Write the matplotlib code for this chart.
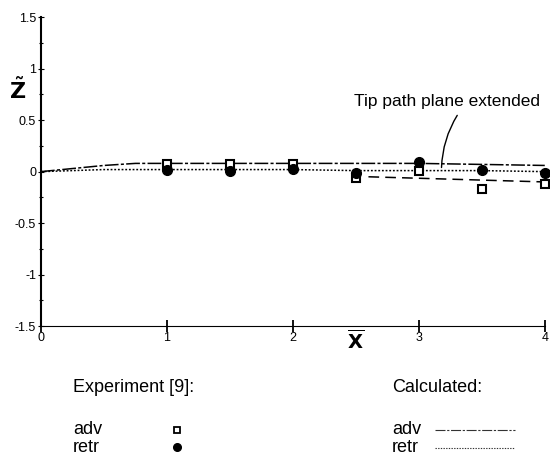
import numpy as np
import matplotlib
matplotlib.use("Agg")
import matplotlib.pyplot as plt
from matplotlib.ticker import MultipleLocator

plt.rcParams['font.family'] = ['Liberation Sans', 'DejaVu Sans']
plt.rcParams['mathtext.fontset'] = 'dejavusans'

# Experiment [9]
x_exp = [1, 1.5, 2, 2.5, 3, 3.5, 4]
adv_exp = [0.07, 0.07, 0.07, -0.06, 0.01, -0.17, -0.12]
retr_exp = [0.02, 0.01, 0.03, -0.01, 0.09, 0.02, -0.01]

# Calculated
x_calc = [0, 0.25, 0.5, 0.75, 1, 1.5, 2, 2.5, 3, 3.5, 4]
adv_calc = [0, 0.03, 0.06, 0.08, 0.08, 0.08, 0.08, 0.08, 0.08, 0.07, 0.06]
retr_calc = [0, 0.01, 0.02, 0.02, 0.02, 0.02, 0.02, 0.01, 0.01, 0.01, 0.0]

# Tip path plane extended
x_tpp = [2.6, 4]
z_tpp = [-0.05, -0.1]

y_ticks = [-1.5, -1, -0.5, 0, 0.5, 1, 1.5]
y_ticklabels = ['-1.5', '-1', '-0.5', '0', '0.5', '1', '1.5']
x_ticks = [0, 1, 2, 3, 4]

fig = plt.figure(figsize=(5.5, 4.62), dpi=100)
ax = fig.add_axes([0.0745, 0.294, 0.916, 0.669])

adv_dash = (0, (9, 1.5, 2, 1.5))
retr_dash = (0, (1.2, 1.2))

ax.plot(x_calc, adv_calc, color='black', lw=1.1, linestyle=adv_dash)
ax.plot(x_calc, retr_calc, color='black', lw=1.1, linestyle=retr_dash)
ax.plot(x_tpp, z_tpp, color='black', lw=1.1, linestyle=(0, (7, 4)))

ax.plot(x_exp, adv_exp, linestyle='none', marker='s', ms=5.5, mfc='white',
        mec='black', mew=1.5, clip_on=False)
ax.plot(x_exp, retr_exp, linestyle='none', marker='o', ms=7, color='black',
        clip_on=False)

ax.annotate('Tip path plane extended', xy=(3.18, 0.04), xytext=(3.22, 0.68),
            ha='center', va='center', fontsize=12.5,
            arrowprops=dict(arrowstyle='-', color='black', lw=1.0,
                            shrinkA=3, shrinkB=0, relpos=(0.58, 0),
                            connectionstyle='arc3,rad=0.15'))

ax.set_xlim(0, 4)
ax.set_ylim(-1.5, 1.5)
ax.set_yticks(y_ticks)
ax.set_yticklabels(y_ticklabels)
ax.set_xticks(x_ticks)
ax.yaxis.set_minor_locator(MultipleLocator(0.25))
ax.tick_params(axis='y', which='major', direction='inout', length=5, width=0.8,
               labelsize=9, pad=1)
ax.tick_params(axis='y', which='minor', direction='inout', length=3, width=0.8)
ax.tick_params(axis='x', which='major', direction='inout', length=8, width=1.3,
               labelsize=9, pad=0)

ax.spines['top'].set_visible(False)
ax.spines['right'].set_visible(False)
ax.spines['left'].set_linewidth(1.5)
ax.spines['bottom'].set_linestyle((0, (1.5, 1)))
ax.spines['bottom'].set_linewidth(0.8)

fig.text(18 / 550, 1 - 91 / 462, r'$\tilde{\mathbf{Z}}$', fontsize=16,
         ha='center', va='center')
fig.text(356 / 550, 1 - 341 / 462, r'$\overline{\mathbf{X}}$', fontsize=14,
         ha='center', va='center')

# legend block
fs = 13
fig.text(73 / 550, 1 - 387 / 462, 'Experiment [9]:', fontsize=fs, va='center')
fig.text(392 / 550, 1 - 387 / 462, 'Calculated:', fontsize=fs, va='center')
fig.text(73 / 550, 1 - 430 / 462, 'adv', fontsize=fs, va='center')
fig.text(73 / 550, 1 - 448 / 462, 'retr', fontsize=fs, va='center')
fig.text(392 / 550, 1 - 430 / 462, 'adv', fontsize=fs, va='center')
fig.text(392 / 550, 1 - 448 / 462, 'retr', fontsize=fs, va='center')

fig.lines.append(plt.Line2D([177 / 550], [1 - 430 / 462], transform=fig.transFigure,
                            marker='s', ms=4, mfc='white', mec='black', mew=1.3,
                            linestyle='none'))
fig.lines.append(plt.Line2D([177 / 550], [1 - 447 / 462], transform=fig.transFigure,
                            marker='o', ms=5.5, color='black', linestyle='none'))
fig.lines.append(plt.Line2D([435 / 550, 515 / 550], [1 - 430 / 462] * 2,
                            transform=fig.transFigure, color='#333333', lw=0.8,
                            linestyle=adv_dash))
fig.lines.append(plt.Line2D([435 / 550, 515 / 550], [1 - 448 / 462] * 2,
                            transform=fig.transFigure, color='#333333', lw=0.8,
                            linestyle=retr_dash))

fig.savefig('out.png', dpi=100)
